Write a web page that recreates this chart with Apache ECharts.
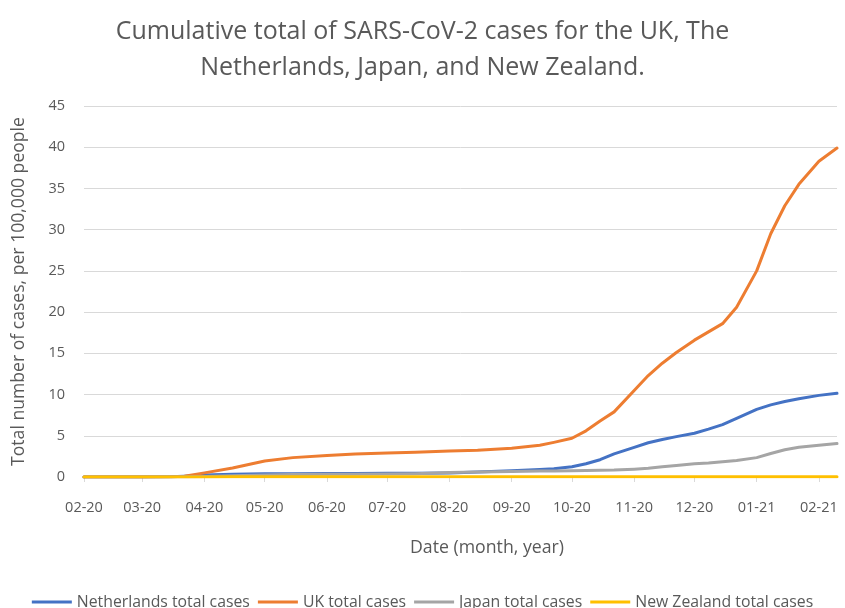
<!DOCTYPE html>
<html>
<head>
<meta charset="utf-8">
<script src="https://cdn.jsdelivr.net/npm/echarts@6/dist/echarts.min.js"></script>
<style>
html,body{margin:0;padding:0;background:#fff;}
#chart{width:845px;height:608px;}
</style>
</head>
<body>
<div id="chart"></div>
<script>
// ---- data ----
var dates = ['2020-02-01','2020-03-01','2020-03-15','2020-03-22','2020-04-01','2020-04-15',
  '2020-05-01','2020-05-15','2020-06-01','2020-06-15','2020-07-01','2020-07-15',
  '2020-08-01','2020-08-15','2020-09-01','2020-09-15','2020-09-22','2020-10-01',
  '2020-10-08','2020-10-15','2020-10-22','2020-11-01','2020-11-08','2020-11-15',
  '2020-11-22','2020-12-01','2020-12-08','2020-12-15','2020-12-22','2021-01-01',
  '2021-01-08','2021-01-15','2021-01-22','2021-02-01','2021-02-10'];
var netherlands = [0,0,0.02,0.1,0.25,0.33,0.38,0.4,0.42,0.43,0.44,0.45,
  0.5,0.6,0.75,0.9,1.0,1.25,1.6,2.1,2.8,3.6,4.15,4.55,
  4.9,5.3,5.8,6.35,7.1,8.2,8.75,9.15,9.5,9.9,10.15];
var uk = [0,0,0.02,0.1,0.5,1.1,1.95,2.35,2.6,2.8,2.9,3.0,
  3.15,3.25,3.5,3.85,4.2,4.7,5.6,6.8,7.9,10.5,12.3,13.8,
  15.1,16.6,17.6,18.6,20.6,25.0,29.5,32.9,35.5,38.3,39.9];
var japan = [0,0.01,0.02,0.03,0.05,0.15,0.25,0.3,0.32,0.33,0.35,0.4,
  0.55,0.62,0.68,0.72,0.74,0.77,0.8,0.82,0.85,0.95,1.05,1.25,
  1.4,1.6,1.7,1.85,2.0,2.35,2.85,3.3,3.6,3.85,4.05];
var newZealand = [0,0,0,0.005,0.01,0.02,0.025,0.03,0.03,0.03,0.03,0.03,
  0.03,0.03,0.03,0.03,0.03,0.035,0.035,0.035,0.035,0.035,0.035,0.035,
  0.035,0.04,0.04,0.04,0.04,0.04,0.04,0.04,0.04,0.04,0.04];
var tickDates = ['2020-02-01','2020-03-01','2020-04-01','2020-05-01','2020-06-01','2020-07-01',
  '2020-08-01','2020-09-01','2020-10-01','2020-11-01','2020-12-01','2021-01-01','2021-02-01'];
var tickLabels = ['02-20','03-20','04-20','05-20','06-20','07-20','08-20','09-20','10-20',
  '11-20','12-20','01-21','02-21'];
var seriesNames = ['Netherlands total cases','UK total cases','Japan total cases','New Zealand total cases'];
var seriesColors = ['#4472C4','#ED7D31','#A5A5A5','#FFC000'];
var axisMin = '2020-02-01', axisMax = '2021-02-10';

function toTime(s){var p=s.split('-');return Date.UTC(+p[0],+p[1]-1,+p[2]);}
var tickValues = tickDates.map(toTime);
function pairs(vals){return dates.map(function(d,i){return [toTime(d),vals[i]];});}
var allVals=[netherlands,uk,japan,newZealand];

var FONT='Open Sans';
var TXT='#595959';
var chart = echarts.init(document.getElementById('chart'),null,{renderer:'canvas'});
chart.setOption({
  animation:false,
  backgroundColor:'#fff',
  textStyle:{fontFamily:FONT},
  title:{
    text:'Cumulative total of SARS-CoV-2 cases for the UK, The\nNetherlands, Japan, and New Zealand.',
    left:'center', top:9,
    textStyle:{fontFamily:FONT,fontSize:25,fontWeight:'normal',color:TXT,lineHeight:36}
  },
  grid:{left:84,right:8,top:106,bottom:131,containLabel:false},
  legend:{
    top:589, left:'center',
    itemWidth:40,itemHeight:3,itemGap:8,icon:'rect',
    textStyle:{fontFamily:FONT,fontSize:15.8,color:TXT},
    data:seriesNames
  },
  graphic:[{type:'text',left:410,top:539,
    style:{text:'Date (month, year)',fontFamily:FONT,fontSize:17.7,fill:TXT}}],
  xAxis:{
    type:'value',min:toTime(axisMin),max:toTime(axisMax),
    axisLine:{lineStyle:{color:'#D9D9D9',width:1}},
    axisTick:{show:true,length:5,lineStyle:{color:'#D9D9D9'},customValues:tickValues},
    axisLabel:{customValues:tickValues,margin:23,fontFamily:FONT,fontSize:14.5,color:TXT,
      showMinLabel:true,showMaxLabel:true,
      formatter:function(v){var i=tickValues.indexOf(v);return i>=0?tickLabels[i]:'';}},
    splitLine:{show:false}
  },
  yAxis:{
    type:'value',min:0,max:45,interval:5,
    name:'Total number of cases, per 100,000 people',
    nameLocation:'middle',nameGap:56,nameRotate:90,
    nameTextStyle:{fontFamily:FONT,fontSize:17.6,color:TXT},
    axisLine:{show:false},axisTick:{show:false},
    axisLabel:{margin:19,fontFamily:FONT,fontSize:14.5,color:TXT},
    splitLine:{lineStyle:{color:'#D9D9D9',width:1}}
  },
  series:seriesNames.map(function(n,i){return {
    name:n,type:'line',showSymbol:false,smooth:false,
    data:pairs(allVals[i]),
    itemStyle:{color:seriesColors[i]},
    lineStyle:{color:seriesColors[i],width:3,cap:'round',join:'round'}
  };})
});
</script>
</body>
</html>
